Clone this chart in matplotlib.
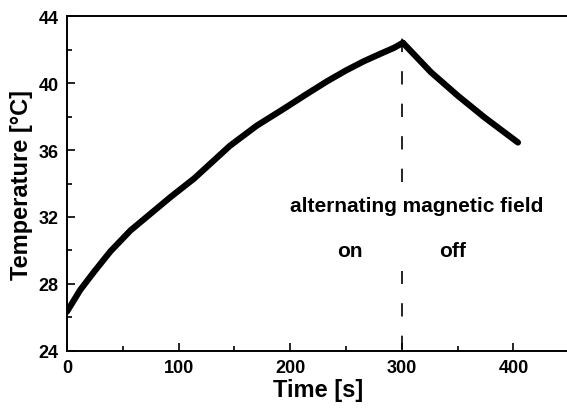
import numpy as np
import matplotlib.pyplot as plt
from matplotlib.ticker import MultipleLocator

# heating (field on)
t_on = [0, 6, 12, 24, 39, 57, 75, 93, 114, 146, 170, 194, 215, 233, 250, 266, 281, 293, 301]
T_on = [26.35, 27.0, 27.65, 28.7, 29.95, 31.2, 32.2, 33.2, 34.3, 36.25, 37.45, 38.45,
        39.35, 40.1, 40.75, 41.3, 41.75, 42.1, 42.4]

# cooling (field off)
t_off = [301, 326, 350, 374, 404]
T_off = [42.4, 40.65, 39.25, 37.95, 36.45]

switch_time = 300

plt.rcParams['font.family'] = ['Liberation Sans', 'DejaVu Sans']
plt.rcParams['font.weight'] = 'bold'

fig = plt.figure(figsize=(5.67, 4.10), dpi=100)
ax = fig.add_axes([0.118, 0.1415, 0.886, 0.817])

ax.plot(t_on, T_on, color='black', lw=4.5, solid_capstyle='round', solid_joinstyle='round')
ax.plot(t_off, T_off, color='black', lw=4.5, solid_capstyle='round', solid_joinstyle='round')
# dashed marker line, broken where the label sits
ax.plot([switch_time, switch_time], [24.1, 28.8], color='black', lw=1.2, dashes=(8, 11.5))
ax.plot([switch_time, switch_time], [34.1, 43.05], color='black', lw=1.2, dashes=(8, 11.5))

ax.text(313.6, 32.7, 'alternating magnetic field', ha='center', va='center', fontsize=15, fontweight='bold')
ax.text(253.6, 30.0, 'on', ha='center', va='center', fontsize=15, fontweight='bold')
ax.text(345.9, 30.0, 'off', ha='center', va='center', fontsize=15, fontweight='bold')

ax.set_xlim(0, 450)
ax.set_ylim(24, 44)
ax.xaxis.set_major_locator(MultipleLocator(100))
ax.xaxis.set_minor_locator(MultipleLocator(50))
ax.yaxis.set_major_locator(MultipleLocator(4))
ax.yaxis.set_minor_locator(MultipleLocator(2))
ax.tick_params(which='major', direction='in', length=6, width=1.2, labelsize=13, pad=6)
ax.tick_params(which='minor', direction='in', length=3.5, width=1.2)
for lab in ax.get_xticklabels() + ax.get_yticklabels():
    lab.set_fontweight('bold')

ax.spines['right'].set_visible(False)
for s in ['left', 'bottom', 'top']:
    ax.spines[s].set_linewidth(1.4)

ax.set_xlabel('Time [s]', fontsize=17, fontweight='bold', labelpad=1)
ax.set_ylabel('Temperature [°C]', fontsize=17, fontweight='bold', labelpad=4)

fig.savefig('out.png', dpi=100)
